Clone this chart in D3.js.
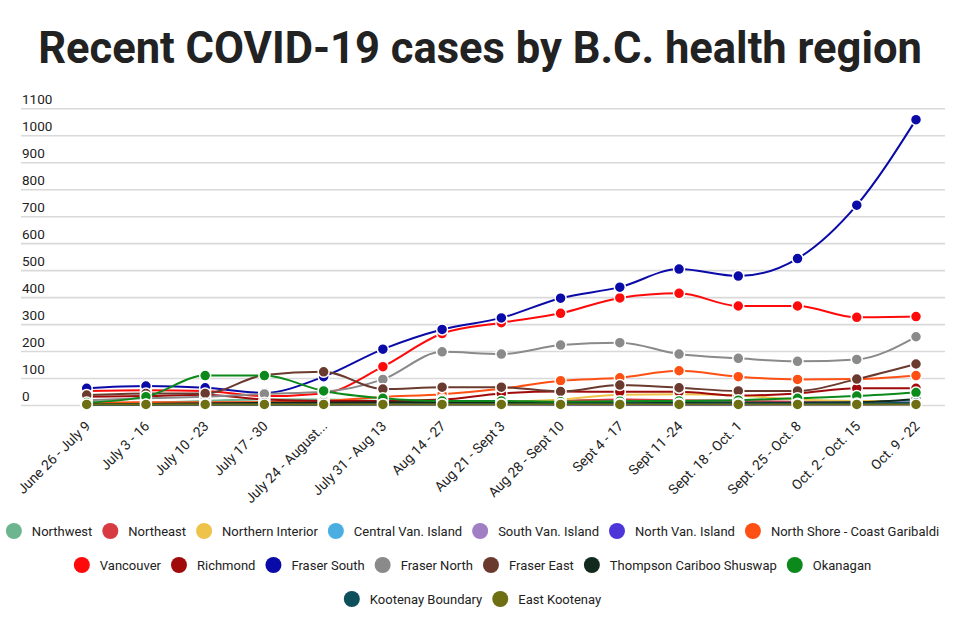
<!DOCTYPE html>
<html>
<head>
<meta charset="utf-8">
<script src="https://cdn.jsdelivr.net/npm/d3@7"></script>
<style>
  html, body { margin: 0; padding: 0; background: #fff; }
  svg { display: block; font-family: Roboto, "Noto Sans", sans-serif; }
</style>
</head>
<body>
<svg id="chart" width="960" height="640"></svg>
<script>
const categories = ["June 26 - July 9", "July 3 - 16", "July 10 - 23", "July 17 - 30", "July 24 - August...",
  "July 31 - Aug 13", "Aug 14 - 27", "Aug 21 - Sept 3", "Aug 28 - Sept 10", "Sept 4 - 17",
  "Sept 11 -24", "Sept. 18 - Oct. 1", "Sept. 25 - Oct. 8", "Oct. 2 - Oct. 15", "Oct. 9 - 22"];

const yTicks = [0, 100, 200, 300, 400, 500, 600, 700, 800, 900, 1000, 1100];

const seriesNames = ["Northwest", "Northeast", "Northern Interior", "Central Van. Island", "South Van. Island",
  "North Van. Island", "North Shore - Coast Garibaldi", "Vancouver", "Richmond", "Fraser South",
  "Fraser North", "Fraser East", "Thompson Cariboo Shuswap", "Okanagan", "Kootenay Boundary", "East Kootenay"];

const seriesColors = ["#6db58f", "#d83a42", "#efc24a", "#4aafe0", "#a07fc4",
  "#4d35d8", "#ff5014", "#ff0a0a", "#a00a0a", "#0a0aa8",
  "#8a8a8a", "#6b3a2e", "#122a1e", "#0b8a1b", "#0e4f5c", "#6e6e12"];

const northwest        = [5, 8, 15, 21, 20, 15, 12, 12, 15, 18, 15, 12, 10, 10, 12];
const northeast        = [4, 6, 8, 10, 12, 10, 10, 12, 15, 20, 18, 15, 12, 10, 10];
const northernInterior = [3, 3, 5, 5, 5, 8, 10, 12, 20, 38, 40, 35, 20, 15, 15];
const centralVanIsland = [2, 3, 3, 4, 5, 5, 4, 5, 6, 8, 8, 6, 8, 10, 18];
const southVanIsland   = [3, 4, 5, 6, 8, 8, 6, 8, 10, 10, 8, 8, 8, 8, 10];
const northVanIsland   = [1, 1, 1, 1, 1, 2, 2, 2, 1, 1, 1, 1, 2, 2, 3];
const northShore       = [8, 10, 10, 10, 15, 30, 40, 60, 90, 101, 127, 105, 95, 96, 109];
const vancouver        = [52, 55, 52, 33, 43, 142, 265, 305, 340, 397, 414, 367, 367, 325, 328];
const richmond         = [31, 33, 38, 20, 15, 15, 20, 43, 50, 49, 49, 35, 43, 62, 62];
const fraserSouth      = [62, 70, 64, 45, 105, 207, 280, 323, 396, 437, 504, 478, 543, 741, 1058];
const fraserNorth      = [18, 25, 31, 41, 49, 95, 197, 189, 222, 231, 189, 173, 162, 169, 253];
const fraserEast       = [37, 43, 43, 111, 123, 59, 66, 66, 50, 74, 64, 52, 52, 96, 152];
const thompsonCariboo  = [3, 4, 6, 8, 8, 10, 10, 10, 8, 12, 10, 8, 8, 10, 21];
const okanagan         = [9, 31, 109, 109, 52, 25, 15, 15, 12, 14, 15, 18, 25, 33, 46];
const kootenayBoundary = [1, 1, 2, 2, 2, 3, 3, 4, 4, 5, 5, 6, 5, 6, 8];
const eastKootenay     = [2, 2, 2, 2, 2, 2, 2, 2, 2, 2, 2, 2, 2, 2, 2];

const seriesValues = [northwest, northeast, northernInterior, centralVanIsland, southVanIsland,
  northVanIsland, northShore, vancouver, richmond, fraserSouth, fraserNorth, fraserEast,
  thompsonCariboo, okanagan, kootenayBoundary, eastKootenay];

const series = seriesNames.map((name, i) => ({ name, color: seriesColors[i], values: seriesValues[i] }));

const svg = d3.select("#chart");

// Title
svg.append("text")
  .attr("x", 480).attr("y", 63)
  .attr("text-anchor", "middle")
  .style("font-size", "43.5px").style("font-weight", "700").style("fill", "#222")
  .text("Recent COVID-19 cases by B.C. health region");

const x = d3.scalePoint().domain(categories).range([86.7, 916]);
const y = d3.scaleLinear().domain([0, 1100]).range([405, 108.3]);

// Gridlines + y labels
const yAxis = d3.axisLeft(y).tickValues(yTicks).tickSize(-924).tickFormat(d3.format("d"));
const gy = svg.append("g").attr("transform", "translate(21,0)").call(yAxis);
gy.select(".domain").remove();
gy.selectAll(".tick line").attr("stroke", "#d9d9d9").attr("stroke-width", 1.6);
gy.selectAll(".tick text")
  .attr("x", 1).attr("dy", "-0.32em")
  .attr("text-anchor", "start")
  .style("font-size", "13.5px").style("fill", "#222")
  .style("font-family", "Roboto, sans-serif");

// X labels
const xAxis = d3.axisBottom(x).tickSize(0);
const gx = svg.append("g").attr("transform", "translate(0,418)").call(xAxis);
gx.select(".domain").remove();
gx.selectAll(".tick text")
  .attr("text-anchor", "end")
  .attr("transform", "translate(1,6) rotate(-45)")
  .attr("dy", "0.3em").attr("y", 0)
  .style("font-size", "13.8px").style("fill", "#222")
  .style("font-family", "Roboto, sans-serif");

// Lines
const line = d3.line()
  .x((d, i) => x(categories[i]))
  .y(d => y(d))
  .curve(d3.curveMonotoneX);

const g = svg.append("g");
series.forEach(s => {
  const sg = g.append("g");
  sg.append("path")
    .attr("d", line(s.values))
    .attr("fill", "none")
    .attr("stroke", s.color)
    .attr("stroke-width", 2);
  sg.selectAll("circle")
    .data(s.values)
    .join("circle")
    .attr("cx", (d, i) => x(categories[i]))
    .attr("cy", d => y(d))
    .attr("r", 5.5)
    .attr("fill", s.color)
    .attr("stroke", "#fff")
    .attr("stroke-width", 1.5);
});

// Legend
const rows = [[0, 7], [7, 14], [14, 16]];
const rowY = [531, 565, 599];
const legend = svg.append("g");
rows.forEach((r, ri) => {
  const items = series.slice(r[0], r[1]);
  const rg = legend.append("g");
  let cx = 0;
  items.forEach(s => {
    const ig = rg.append("g").attr("transform", `translate(${cx},0)`);
    ig.append("circle").attr("cx", 8).attr("cy", 0).attr("r", 8).attr("fill", s.color);
    const t = ig.append("text").attr("x", 26).attr("y", 0).attr("dy", "0.35em")
      .style("font-size", "13px").style("fill", "#222").text(s.name);
    const w = t.node().getComputedTextLength();
    cx += 26 + w + 10;
  });
  const total = cx - 10;
  rg.attr("transform", `translate(${(945 - total) / 2},${rowY[ri]})`);
});
</script>
</body>
</html>
